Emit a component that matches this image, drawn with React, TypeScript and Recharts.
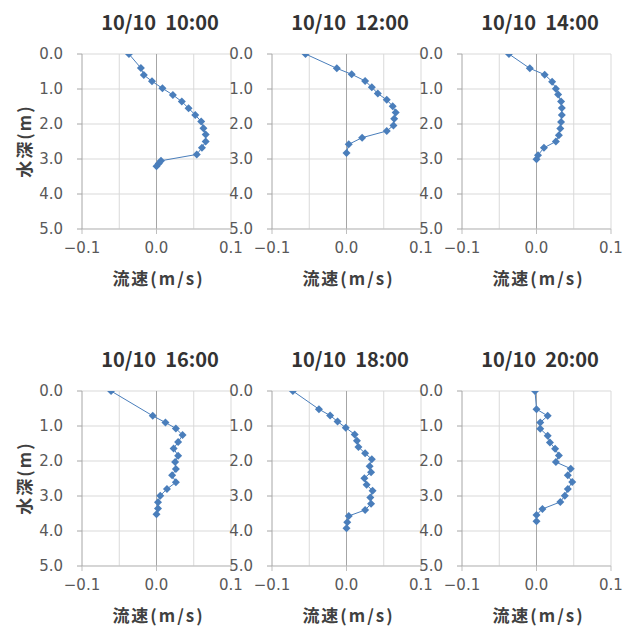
import { ScatterChart, Scatter, XAxis, YAxis, CartesianGrid, ReferenceLine } from "recharts";

// depth (m) / velocity (m/s) per observation time
const titles = ["10/10  10:00", "10/10  12:00", "10/10  14:00", "10/10  16:00", "10/10  18:00", "10/10  20:00"];

const depth1000 = [0, 0.4, 0.6, 0.78, 0.98, 1.17, 1.36, 1.55, 1.74, 1.93, 2.12, 2.3, 2.5, 2.68, 2.87, 3.05, 3.13, 3.21];
const vel1000 = [-0.037, -0.021, -0.017, -0.006, 0.008, 0.022, 0.034, 0.043, 0.052, 0.06, 0.063, 0.066, 0.066, 0.061, 0.054, 0.006, 0.003, 0.0];

const depth1200 = [0, 0.41, 0.58, 0.77, 0.95, 1.13, 1.31, 1.49, 1.67, 1.85, 2.04, 2.2, 2.39, 2.58, 2.83];
const vel1200 = [-0.055, -0.013, 0.007, 0.025, 0.034, 0.042, 0.054, 0.062, 0.066, 0.064, 0.063, 0.054, 0.021, 0.003, 0.0];

const depth1400 = [0, 0.41, 0.59, 0.79, 0.99, 1.16, 1.36, 1.54, 1.74, 1.94, 2.13, 2.32, 2.5, 2.68, 2.89, 3.01];
const vel1400 = [-0.037, -0.009, 0.011, 0.021, 0.026, 0.029, 0.033, 0.034, 0.034, 0.033, 0.032, 0.03, 0.026, 0.01, 0.002, 0.0];

const depth1600 = [0, 0.71, 0.9, 1.07, 1.26, 1.46, 1.64, 1.85, 2.03, 2.23, 2.41, 2.61, 2.8, 2.99, 3.18, 3.36, 3.52];
const vel1600 = [-0.061, -0.005, 0.012, 0.026, 0.035, 0.029, 0.023, 0.029, 0.025, 0.026, 0.021, 0.026, 0.014, 0.005, 0.002, 0.002, 0.0];

const depth1800 = [0, 0.52, 0.7, 0.87, 1.05, 1.24, 1.42, 1.6, 1.78, 1.95, 2.15, 2.32, 2.49, 2.68, 2.85, 3.04, 3.22, 3.4, 3.57, 3.75, 3.92];
const vel1800 = [-0.072, -0.037, -0.022, -0.012, -0.001, 0.011, 0.014, 0.016, 0.025, 0.034, 0.031, 0.033, 0.024, 0.027, 0.035, 0.032, 0.033, 0.025, 0.003, 0.001, 0.0];

const depth2000 = [0, 0.52, 0.71, 0.9, 1.08, 1.28, 1.47, 1.65, 1.84, 2.03, 2.22, 2.41, 2.6, 2.8, 2.99, 3.17, 3.37, 3.54, 3.72];
const vel2000 = [-0.002, 0.0, 0.015, 0.005, 0.005, 0.015, 0.018, 0.025, 0.03, 0.026, 0.046, 0.042, 0.048, 0.042, 0.038, 0.032, 0.008, 0.0, 0.0];

const depthTicks = [0, 1, 2, 3, 4, 5];
const velTicks = [-0.1, 0, 0.1];
const minorVel = [-0.05, 0.05, 0.1];

const panels = [
  [depth1000, vel1000],
  [depth1200, vel1200],
  [depth1400, vel1400],
  [depth1600, vel1600],
  [depth1800, vel1800],
  [depth2000, vel2000],
];

const BLUE = "#4a7ebb";
const NUM_FONT = "'DejaVu Sans', sans-serif";
const JP_FONT = "'Noto Sans CJK JP', 'DejaVu Sans', sans-serif";

const Diamond = (props: any) => {
  const { cx, cy } = props;
  const r = 4;
  return <path d={`M${cx},${cy - r}L${cx + r},${cy}L${cx},${cy + r}L${cx - r},${cy}Z`} fill={BLUE} />;
};

const fmtVel = (v: number) => (v === 0 ? "0.0" : v < 0 ? "\u2212" + Math.abs(v).toFixed(1) : v.toFixed(1));

function Panel({ idx }: { idx: number }) {
  const [depths, vels] = panels[idx];
  const data = depths.map((d, i) => ({ d, v: vels[i] }));
  const col = idx % 3;
  const row = Math.floor(idx / 3);
  const left = col * 190;
  const top = row * 337;
  return (
    <>
      <div
        style={{
          position: "absolute", left: left + 82, top: top + 10, width: 156, textAlign: "center",
          fontFamily: JP_FONT, fontWeight: 700, fontSize: 20, lineHeight: "24px", color: "#333", whiteSpace: "pre",
        }}
      >
        {titles[idx]}
      </div>
      <div style={{ position: "absolute", left, top }}>
        <ScatterChart width={250} height={300} margin={{ top: 54, right: 19, bottom: 41, left: 0 }}>
          <CartesianGrid vertical={false} stroke="#d9d9d9" />
          {minorVel.map((x) => (
            <ReferenceLine key={x} x={x} stroke="#d9d9d9" />
          ))}
          <ReferenceLine x={0} stroke="#a6a6a6" />
          <XAxis
            dataKey="v" type="number" domain={[-0.1, 0.1]} ticks={velTicks} allowDataOverflow
            tickFormatter={fmtVel} height={30} tickSize={5} tickMargin={8}
            axisLine={{ stroke: "#bfbfbf" }} tickLine={{ stroke: "#bfbfbf" }}
            tick={{ fill: "#595959", fontSize: 15, fontFamily: NUM_FONT }}
          />
          <YAxis
            dataKey="d" type="number" domain={[0, 5]} ticks={depthTicks} reversed allowDataOverflow
            tickFormatter={(v: number) => v.toFixed(1)} width={82} tickSize={5} tickMargin={14}
            axisLine={{ stroke: "#a6a6a6" }} tickLine={{ stroke: "#a6a6a6" }}
            tick={{ fill: "#595959", fontSize: 15, fontFamily: NUM_FONT }}
          />
          <Scatter
            data={data} line={{ stroke: BLUE, strokeWidth: 1 }} lineType="joint"
            shape={<Diamond />} isAnimationActive={false}
          />
        </ScatterChart>
      </div>
      <div
        style={{
          position: "absolute", left: left + 84, top: top + 266, width: 149, textAlign: "center",
          fontFamily: JP_FONT, fontWeight: 700, fontSize: 17, letterSpacing: 2, lineHeight: "24px", color: "#404040",
        }}
      >
        流速(m/s)
      </div>
      {col === 0 && (
        <div
          style={{
            position: "absolute", left: 24, top: top + 141, transform: "translate(-50%, -50%) rotate(-90deg)",
            fontFamily: JP_FONT, fontWeight: 700, fontSize: 17, letterSpacing: 2, lineHeight: "20px", color: "#404040", whiteSpace: "nowrap",
          }}
        >
          水深(m)
        </div>
      )}
    </>
  );
}

export default function App() {
  return (
    <div style={{ position: "absolute", left: 0, top: 0, width: 630, height: 626, background: "#fff" }}>
      {panels.map((_, i) => (
        <Panel key={i} idx={i} />
      ))}
    </div>
  );
}
